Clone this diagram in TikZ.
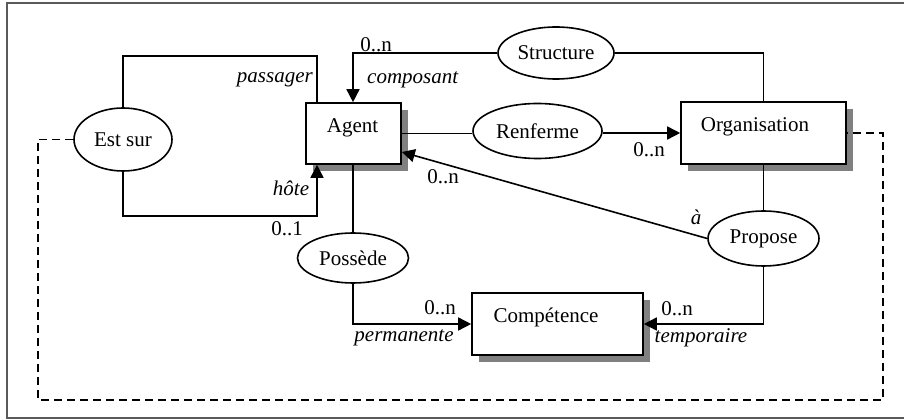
\documentclass[tikz,border=0pt]{standalone}
\usepackage{fontspec}
\setmainfont{Liberation Serif}
\usetikzlibrary{arrows.meta,shapes.geometric}
\definecolor{shadowgray}{RGB}{128,128,128}
\definecolor{framegray}{RGB}{90,90,90}
\tikzset{
  every node/.style={font=\fontsize{21}{25}\selectfont},
  ent/.style={draw, line width=1.6pt, fill=white, inner sep=0pt,
    preaction={fill=shadowgray, transform canvas={xshift=7pt,yshift=-7pt}}},
  rel/.style={draw, ellipse, line width=1.6pt, fill=white, inner sep=0pt},
  conn/.style={line width=1.6pt},
  arr/.style={line width=1.6pt, -{Triangle[length=13pt,width=13pt]}},
  dashconn/.style={line width=1.6pt, dash pattern=on 8pt off 5pt},
  lbl/.style={inner sep=0pt},
  ilbl/.style={inner sep=0pt, font=\fontsize{21}{25}\selectfont\itshape},
}
\begin{document}
\begin{tikzpicture}[x=1pt,y=-1pt]
\useasboundingbox (0,0) rectangle (904,419);
% frame
\draw[framegray, line width=1.5pt] (904,3) -- (7,3) -- (7,418) -- (904,418);

% entities
\node[ent, minimum width=95pt, minimum height=61pt] (agent) at (353.5,133.5) {};
\node[lbl] (agenttxt) at (352.5,128) {Agent};
\node[ent, minimum width=165pt, minimum height=62pt] (org) at (763.5,133) {};
\node[lbl] (orgtxt) at (755,127) {Organisation};
\node[ent, minimum width=171pt, minimum height=62pt] (comp) at (557.5,324) {};
\node[lbl] (comptxt) at (546,317) {Compétence};

% relations
\node[rel, minimum width=98pt, minimum height=63pt] (estsur) at (123,139.5) {Est sur};
\node[rel, minimum width=116pt, minimum height=52pt] (structure) at (556,53) {Structure};
\node[rel, minimum width=129pt, minimum height=55pt] (renferme) at (537.5,131) {Renferme};
\node[rel, minimum width=111pt, minimum height=55pt] (propose) at (763.5,238.5) {Propose};
\node[rel, minimum width=111pt, minimum height=50pt] (possede) at (353,258) {Possède};

% helper coordinates
\coordinate (ptop) at (317,56);
\coordinate (pbot) at (317,216);
\coordinate (scorner) at (353,53);
\coordinate (ocorner) at (763.5,53);
\path (agent.east) ++(0,18.5) coordinate (ain);
\coordinate (dleft) at (38,139.5);
\coordinate (dbot) at (883,400);

% connectors
\draw[conn] (estsur.north) |- (ptop) -- (ptop |- agent.north);
\draw[arr] (estsur.south) |- (pbot) -- (pbot |- agent.south);
\draw[arr] (structure.west) -- (scorner) -- (scorner |- agent.north);
\draw[conn] (structure.east) -- (ocorner) -- (org.north);
\draw[conn] (agent.east) -- (renferme.west |- agent.east);
\draw[arr] (renferme.east |- org.west) -- (org.west);
\draw[arr] (propose.west) -- (ain);
\draw[conn] (org.south) -- (propose.north);
\draw[arr] (propose.south) |- (comp.east);
\draw[conn] (agent.south -| possede.north) -- (possede.north);
\draw[arr] (possede.south) |- (comp.west);
\draw[dashconn] (estsur.west) -- (dleft) |- (dbot) |- (org.east);

% labels
\node[ilbl, anchor=east] (lpass) at (313,80) {passager};
\node[ilbl, anchor=west] (lcomp) at (367,80) {composant};
\node[lbl] (lstr) at (376,45) {0..n};
\node[ilbl] (lhote) at (291,188) {hôte};
\node[lbl] (lzu) at (287,229) {0..1};
\node[lbl] (lren) at (649,150) {0..n};
\node[lbl] (lag) at (443,177) {0..n};
\node[ilbl] (la) at (696,217) {à};
\node[lbl] (lpos) at (440,308) {0..n};
\node[ilbl] (lperm) at (404,338) {permanente};
\node[lbl] (ltemp) at (677,309) {0..n};
\node[ilbl] (ltempo) at (701,338) {temporaire};
\end{tikzpicture}
\end{document}
